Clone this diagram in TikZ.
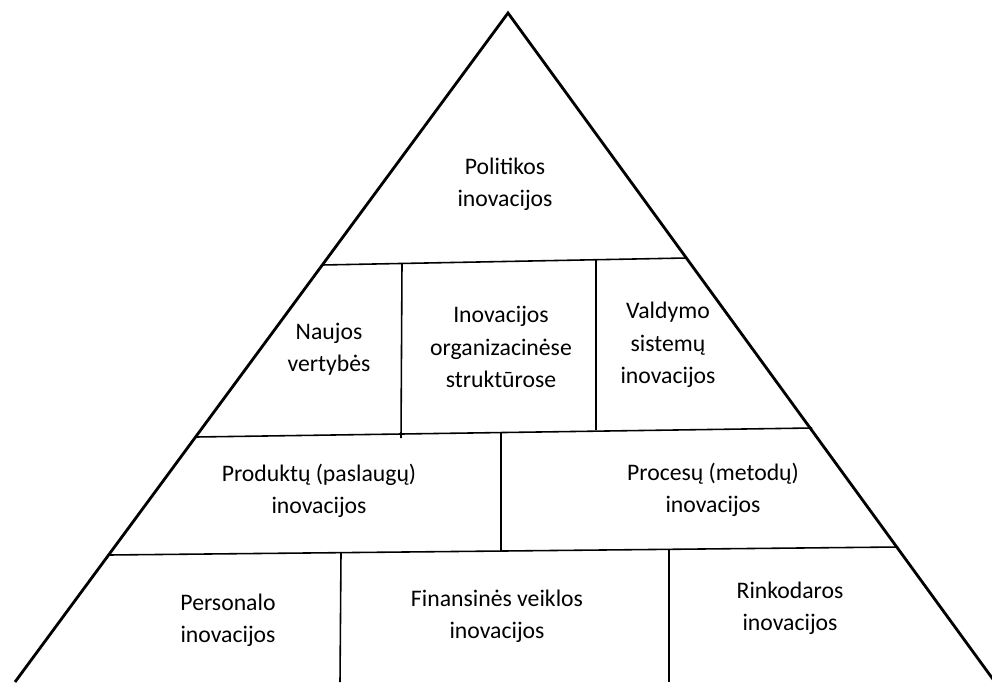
\documentclass[tikz,border=0pt]{standalone}
\usepackage{fontspec}
\setmainfont{Carlito}
\usepackage{tikz}
\usetikzlibrary{positioning}

\begin{document}
\begin{tikzpicture} [edge/.style={draw, line width=1.6pt, line join=miter},
      divider/.style={draw, line width=0.9pt},
      label/.style={align=center, font=\fontsize{13.5}{18.4}\selectfont, inner sep=0pt}]
      \useasboundingbox (0,0) rectangle (19.84,13.64);

      % outline
      \coordinate (apex) at (10.16,13.38);
      \coordinate (bl) at (0.30,0);
      \coordinate (br) at (19.90,0);
      \draw[edge] (bl) -- (apex) -- (br);

      % levels
      \coordinate (l1a) at (6.44,8.34);  \coordinate (l1b) at (13.72,8.48);
      \coordinate (l2a) at (3.92,4.90);  \coordinate (l2b) at (16.24,5.08);
      \coordinate (l3a) at (2.17,2.54);  \coordinate (l3b) at (17.96,2.70);
      \draw[divider] (l1a) -- (l1b);
      \draw[divider] (l2a) -- (l2b);
      \draw[divider] (l3a) -- (l3b);

      % splits
      \draw[divider] (8.04,8.38) -- (8.02,4.88);
      \draw[divider] (11.92,8.44) -- (11.92,5.04);
      \draw[divider] (10.02,5.00) -- (10.02,2.64);
      \draw[divider] (6.82,2.58) -- (6.80,0);
      \draw[divider] (13.38,2.64) -- (13.38,0);

      \node[label] (pol) at (10.10,9.96) {Politikos\\inovacijos};
      \node[label] (nau) at (6.58,6.66) {Naujos\\vertybės};
      \node[label] (org) at (10.02,6.70) {Inovacijos\\organizacinėse\\struktūrose};
      \node[label] (val) at (13.36,6.74) {Valdymo\\sistemų\\inovacijos};
      \node[label] (pro) at (6.38,3.82) {Produktų (paslaugų)\\inovacijos};
      \node[label] (proc) at (14.26,3.84) {Procesų (metodų)\\inovacijos};
      \node[label] (per) at (4.56,1.24) {Personalo\\inovacijos};
      \node[label] (fin) at (9.94,1.32) {Finansinės veiklos\\inovacijos};
      \node[label] (rin) at (15.80,1.48) {Rinkodaros\\inovacijos};
    \end{tikzpicture}
\end{document}
